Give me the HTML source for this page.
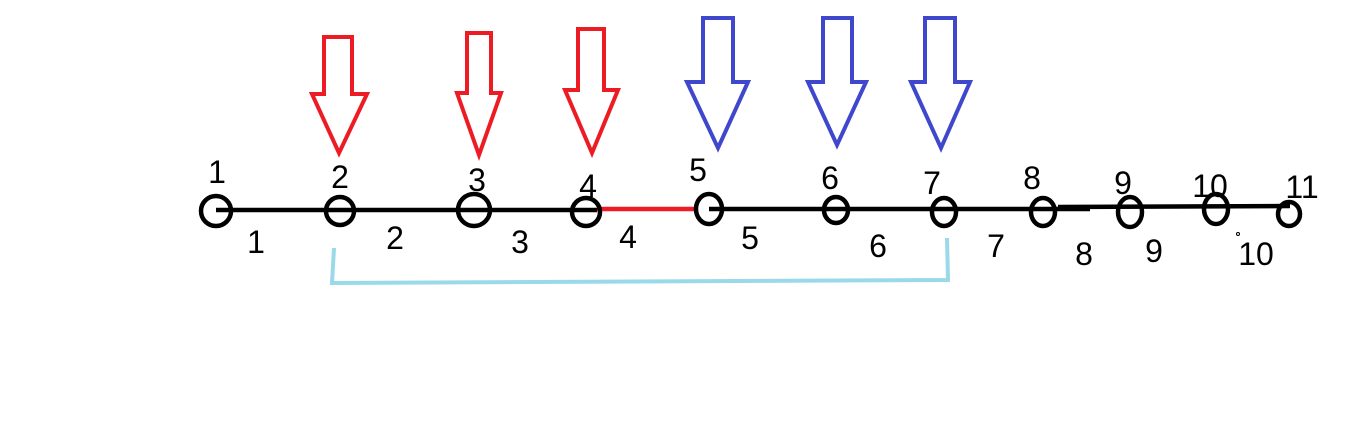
<!DOCTYPE html>
<html><head><meta charset="utf-8"><style>
html,body{margin:0;padding:0;background:#fff;}
svg{display:block;}
text{font-family:"Liberation Sans","DejaVu Sans",sans-serif;font-size:32px;fill:#000;text-anchor:middle;dominant-baseline:central;}
</style></head><body>
<svg width="1346" height="423" viewBox="0 0 1346 423" xmlns="http://www.w3.org/2000/svg">
<rect width="1346" height="423" fill="#fff"/>
<g fill="none" stroke="#ed1c24" stroke-width="4" stroke-linejoin="miter">
<path d="M324,37 H352 V94 H367 L339,153 L312,94 H324 Z"/>
<path d="M467,33 H491 V93 H501 L479,155 L457,93 H467 Z"/>
<path d="M578,29 H604 V90 H618 L592,153 L565,90 H578 Z"/>
</g>
<g fill="none" stroke="#3f48cc" stroke-width="4">
<path d="M703,18 H733 V82 H748 L718,148 L687,82 H703 Z"/>
<path d="M823,18 H852 V82 H866 L837,145 L808,82 H823 Z"/>
<path d="M925,18 H955 V82 H970 L941,148 L911,82 H925 Z"/>
</g>
<g stroke="#000" stroke-width="4.5" fill="none">
<line x1="216" y1="210" x2="597" y2="210"/>
<line x1="709" y1="209" x2="1090" y2="209"/>
<line x1="1058" y1="207" x2="1290" y2="206"/>
</g>
<line x1="597" y1="209" x2="697" y2="209" stroke="#ed1c24" stroke-width="4.5"/>
<g stroke="#000" stroke-width="4.5" fill="none">
<ellipse cx="216" cy="211" rx="15" ry="15"/>
<ellipse cx="340" cy="211" rx="14" ry="14"/>
<ellipse cx="474" cy="210" rx="16" ry="16"/>
<ellipse cx="586" cy="212" rx="14" ry="14"/>
<ellipse cx="709" cy="209" rx="13" ry="15"/>
<ellipse cx="836" cy="210" rx="12" ry="13"/>
<ellipse cx="944" cy="212" rx="12" ry="14"/>
<ellipse cx="1043" cy="212" rx="12" ry="14"/>
<ellipse cx="1130" cy="212" rx="12" ry="15"/>
<ellipse cx="1216" cy="209" rx="12" ry="15"/>
<ellipse cx="1289" cy="214" rx="11" ry="12"/>
</g>
<path d="M334,248 L332,283 L948,280 L947,238" fill="none" stroke="#99d9ea" stroke-width="4"/>
<text x="217" y="172">1</text><text x="340" y="177">2</text><text x="477" y="180">3</text>
<text x="588" y="186">4</text><text x="698" y="170">5</text><text x="830" y="178">6</text>
<text x="932" y="183">7</text><text x="1032" y="178">8</text><text x="1123" y="183">9</text>
<text x="1210" y="186">10</text><text x="1302" y="187">11</text>
<text x="256" y="242">1</text><text x="395" y="238">2</text><text x="520" y="242">3</text>
<text x="628" y="237">4</text><text x="750" y="238">5</text><text x="878" y="246">6</text>
<text x="996" y="246">7</text><text x="1084" y="254">8</text><text x="1154" y="251">9</text>
<text x="1256" y="254">10</text>
<circle cx="1238" cy="234" r="1.5" fill="none" stroke="#000" stroke-width="1"/>
</svg>
</body></html>
